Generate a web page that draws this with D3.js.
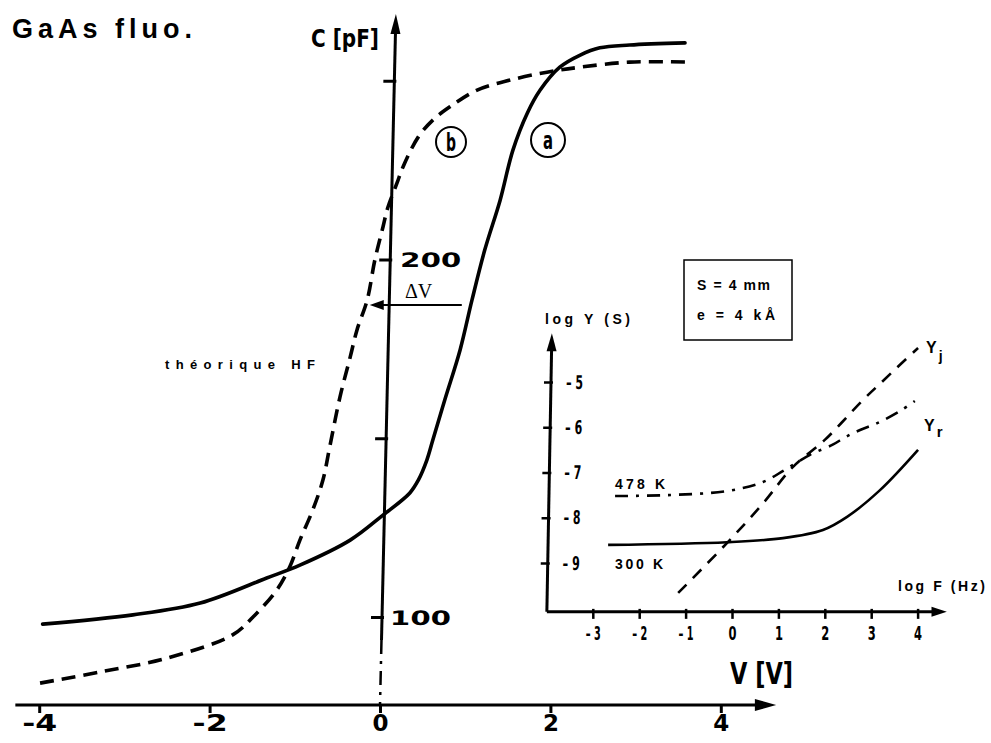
<!DOCTYPE html>
<html><head><meta charset="utf-8">
<script src="https://cdn.jsdelivr.net/npm/d3@7/dist/d3.min.js"></script>
<style>
html,body{margin:0;padding:0;background:#fff;}
svg{display:block;}
</style></head><body>
<svg id="chart" width="991" height="743"></svg>
<script>
// ---------- data ----------
const voltTicks = [-4, -2, 0, 2, 4];
const voltTickLabels = ["-4", "-2", "0", "2", "4"];
const capTicks = [100, 150, 200, 250];
const capTickLabels = ["100", "", "200", ""];

// curve (a) : solid
const curveA_V = [-3.96, -2.90, -2.11, -1.33, -0.94, -0.35, 0.035, 0.35, 0.45, 0.55, 0.62, 0.76, 0.94, 1.08, 1.23, 1.41, 1.56, 1.73, 1.88, 2.11, 2.35, 2.58, 2.93, 3.58];
const curveA_C = [98.0, 100.6, 103.9, 110.9, 114.5, 121.5, 128.5, 134.7, 138.3, 143.9, 149.5, 160.7, 174.7, 188.7, 202.7, 216.6, 230.6, 241.0, 247.4, 253.8, 257.2, 259.2, 260.0, 260.6];
// curve (b) : dashed
const curveB_V = [-3.99, -3.29, -2.50, -1.73, -1.49, -1.21, -1.06, -0.94, -0.79, -0.67, -0.59, -0.47, -0.35, -0.27, -0.15, -0.06, 0.035, 0.09, 0.20, 0.27, 0.45, 0.62, 0.82, 1.14, 1.53, 1.96, 2.35, 2.93, 3.67];
const curveB_C = [81.5, 84.6, 88.5, 95.0, 100.0, 107.6, 114.0, 121.5, 129.9, 138.3, 147.6, 161.5, 172.7, 180.3, 188.7, 199.9, 209.1, 214.4, 221.4, 225.9, 234.3, 239.0, 242.7, 247.4, 250.2, 252.4, 253.8, 255.2, 255.2];

// inset
const logFTicks = [-3, -2, -1, 0, 1, 2, 3, 4];
const logFTickLabels = ["– 3", "– 2", "– 1", "0", "1", "2", "3", "4"];
const logYTicks = [-5, -6, -7, -8, -9];
const logYTickLabels = ["– 5", "– 6", "– 7", "– 8", "– 9"];

const yj_logF = [-1.16, -0.11, 0.67, 1.31, 2.0, 2.82, 3.23, 3.62, 4.01];
const yj_logY = [-9.66, -8.56, -7.68, -6.88, -6.28, -5.40, -5.0, -4.62, -4.25];

const yr478_logF = [-2.52, -1.40, -0.11, 0.67, 1.14, 1.68, 2.18, 2.44, 2.76, 3.13, 3.62, 3.94];
const yr478_logY = [-7.52, -7.50, -7.41, -7.21, -6.94, -6.61, -6.38, -6.22, -6.06, -5.91, -5.64, -5.42];

const y300_logF = [-2.67, -0.11, 1.10, 1.96, 2.48, 3.19, 4.01];
const y300_logY = [-8.60, -8.54, -8.45, -8.27, -7.98, -7.39, -6.50];

// ---------- drawing ----------
const svg = d3.select("#chart");
const narrow = '"Liberation Sans Narrow","DejaVu Sans Condensed","Arial Narrow","Liberation Sans",sans-serif';
const sans = '"Liberation Sans",Arial,sans-serif';
const wide = '"DejaVu Sans",Verdana,sans-serif';
const fit = (sel, w) => sel.attr("textLength", w).attr("lengthAdjust", "spacingAndGlyphs");
const spread = (sel, w) => sel.attr("textLength", w).attr("lengthAdjust", "spacing");

const x = d3.scaleLinear().domain([-4, 4]).range([39.2, 720.8]);
const y = d3.scaleLinear().domain([100, 200]).range([617, 259.5]);
const baseY = 705;
const cMax = y.invert(14);

// main x axis
const gx = svg.append("g").attr("transform", `translate(0,${baseY})`)
  .call(d3.axisBottom(x).tickValues(voltTicks).tickSizeInner(8).tickSizeOuter(0)
    .tickFormat((d, i) => voltTickLabels[i]));
gx.select(".domain").remove();
gx.selectAll(".tick line").attr("stroke", "#000").attr("stroke-width", 3);
gx.selectAll(".tick text").attr("dy", null).attr("y", 26)
  .attr("font-family", wide).attr("font-weight", "bold").attr("font-size", 23).attr("fill", "#000")
  .each(function () { const t = d3.select(this); if (t.text().length > 1) fit(t, 35); });
gx.append("line").attr("x1", x(-4.28)).attr("x2", x(4.45)).attr("y1", 0).attr("y2", 0)
  .attr("stroke", "#000").attr("stroke-width", 3);
gx.append("path").attr("d", `M${x(4.65)},0 L${x(4.4)},-6 L${x(4.4)},6 Z`).attr("fill", "#000");

// main y axis (slightly slanted like the scan)
const kMain = 0.023;
const gy = svg.append("g")
  .attr("transform", `translate(${x(0) + kMain * baseY},0) skewX(${-Math.atan(kMain) * 180 / Math.PI})`)
  .call(d3.axisRight(y).tickValues(capTicks).tickSizeInner(-10).tickSizeOuter(0).tickPadding(10)
    .tickFormat((d, i) => capTickLabels[i]));
gy.select(".domain").remove();
gy.selectAll(".tick line").attr("stroke", "#000").attr("stroke-width", 3).attr("x2", -11).attr("x1", 2);
gy.selectAll(".tick text").attr("font-family", wide).attr("font-weight", "bold").attr("font-size", 20)
  .attr("fill", "#000").attr("dy", "0.36em")
  .each(function () { const t = d3.select(this); if (t.text().length) fit(t, 61); });
gy.select(".tick text").attr("x", 8);
gy.append("line").attr("x1", 0).attr("x2", 0).attr("y1", y(cMax) + 10).attr("y2", y(93.6))
  .attr("stroke", "#000").attr("stroke-width", 3);
gy.append("line").attr("x1", 0).attr("x2", 0).attr("y1", y(93.6)).attr("y2", baseY)
  .attr("stroke", "#000").attr("stroke-width", 2.5).attr("stroke-dasharray", "14,7,3,7");
gy.append("path").attr("d", `M0,${y(cMax)} L-5,${y(cMax) + 20} L5,${y(cMax) + 20} Z`).attr("fill", "#000");

// curves
const lineMain = d3.line().x(d => x(d[0])).y(d => y(d[1])).curve(d3.curveCatmullRom.alpha(0.5));
svg.append("path").datum(curveA_V.map((v, i) => [v, curveA_C[i]]))
  .attr("d", lineMain).attr("fill", "none").attr("stroke", "#000").attr("stroke-width", 3.6)
  .attr("stroke-linecap", "round");
svg.append("path").datum(curveB_V.map((v, i) => [v, curveB_C[i]]))
  .attr("d", lineMain).attr("fill", "none").attr("stroke", "#000").attr("stroke-width", 3.6)
  .attr("stroke-dasharray", "14,8");

// ΔV arrow
const dvC = 187.3, dvFrom = 0.96, dvTo = -0.12;
svg.append("line").attr("x1", x(dvFrom)).attr("x2", x(dvTo) + 10).attr("y1", y(dvC)).attr("y2", y(dvC))
  .attr("stroke", "#000").attr("stroke-width", 2);
svg.append("path").attr("d", `M${x(dvTo)},${y(dvC)} L${x(dvTo) + 14},${y(dvC) - 5} L${x(dvTo) + 14},${y(dvC) + 5} Z`).attr("fill", "#000");
svg.append("text").attr("x", 405).attr("y", 298).attr("font-family", '"Liberation Serif","DejaVu Serif",serif')
  .attr("font-size", 20).text("ΔV");

// circled labels
[[451, 142, 15, "b"], [548, 140, 17, "a"]].forEach(([cx, cy, r, t]) => {
  svg.append("circle").attr("cx", cx).attr("cy", cy).attr("r", r).attr("fill", "none").attr("stroke", "#000").attr("stroke-width", 2);
  fit(svg.append("text").attr("x", cx - 5).attr("y", cy + 9)
    .attr("font-family", narrow).attr("font-weight", "bold").attr("font-size", 24).text(t), 10);
});

// texts
svg.append("text").attr("x", 12).attr("y", 38).attr("font-family", sans)
  .attr("font-weight", "bold").attr("font-size", 27).attr("letter-spacing", 5).text("GaAs fluo.");
fit(svg.append("text").attr("x", 311).attr("y", 47).attr("font-family", narrow)
  .attr("font-weight", "bold").attr("font-size", 25).text("C [pF]"), 68);
spread(svg.append("text").attr("x", 165).attr("y", 369).attr("font-family", sans)
  .attr("font-weight", "bold").attr("font-size", 13).text("théorique HF"), 150);
fit(svg.append("text").attr("x", 730).attr("y", 684).attr("font-family", narrow)
  .attr("font-weight", "bold").attr("font-size", 31).text("V [V]"), 63);

// ---------- inset ----------
const xi = d3.scaleLinear().domain([-3, 4]).range([592.8, 917.6]);
const yi = d3.scaleLinear().domain([-9, -5]).range([563, 382]);
const iBase = yi(-10.08);
const iLeft = xi(-3.99);

const gxi = svg.append("g").attr("transform", `translate(0,${iBase})`)
  .call(d3.axisBottom(xi).tickValues(logFTicks).tickSizeInner(7).tickSizeOuter(0).tickPadding(8)
    .tickFormat((d, i) => logFTickLabels[i]));
gxi.select(".domain").remove();
gxi.selectAll(".tick line").attr("stroke", "#000").attr("stroke-width", 2.5).attr("y1", -3);
gxi.selectAll(".tick text").attr("font-family", narrow).attr("font-weight", "bold").attr("font-size", 19).attr("fill", "#000")
  .each(function () { const t = d3.select(this); fit(t, t.text().length > 1 ? 15 : 8); });
gxi.append("line").attr("x1", iLeft).attr("x2", xi(4.4)).attr("y1", 0).attr("y2", 0).attr("stroke", "#000").attr("stroke-width", 3);
gxi.append("path").attr("d", `M${xi(4.63)},0 L${xi(4.3)},-5 L${xi(4.3)},5 Z`).attr("fill", "#000");

const kIn = 0.018;
const gyi = svg.append("g")
  .attr("transform", `translate(${iLeft + kIn * iBase},0) skewX(${-Math.atan(kIn) * 180 / Math.PI})`)
  .call(d3.axisRight(yi).tickValues(logYTicks).tickSizeInner(-7).tickSizeOuter(0).tickPadding(15)
    .tickFormat((d, i) => logYTickLabels[i]));
gyi.select(".domain").remove();
gyi.selectAll(".tick line").attr("stroke", "#000").attr("stroke-width", 2.5).attr("x1", 2);
gyi.selectAll(".tick text").attr("font-family", narrow).attr("font-weight", "bold").attr("font-size", 19).attr("fill", "#000")
  .each(function () { fit(d3.select(this), 17); });
gyi.append("line").attr("x1", 0).attr("x2", 0).attr("y1", yi(-4.2)).attr("y2", iBase).attr("stroke", "#000").attr("stroke-width", 3);
gyi.append("path").attr("d", `M0,${yi(-3.92)} L-5,${yi(-3.92) + 18} L5,${yi(-3.92) + 18} Z`).attr("fill", "#000");

const lineIn = d3.line().x(d => xi(d[0])).y(d => yi(d[1])).curve(d3.curveCatmullRom.alpha(0.5));
svg.append("path").datum(yj_logF.map((v, i) => [v, yj_logY[i]])).attr("d", lineIn)
  .attr("fill", "none").attr("stroke", "#000").attr("stroke-width", 2.6).attr("stroke-dasharray", "12,9");
svg.append("path").datum(yr478_logF.map((v, i) => [v, yr478_logY[i]])).attr("d", lineIn)
  .attr("fill", "none").attr("stroke", "#000").attr("stroke-width", 2.6).attr("stroke-dasharray", "13,8,3,8");
svg.append("path").datum(y300_logF.map((v, i) => [v, y300_logY[i]])).attr("d", lineIn)
  .attr("fill", "none").attr("stroke", "#000").attr("stroke-width", 2.6);

const tIn = (tx, ty, s, size, w) => {
  const t = svg.append("text").attr("x", tx).attr("y", ty).attr("font-family", sans)
    .attr("font-weight", "bold").attr("font-size", size).text(s);
  if (w) spread(t, w);
  return t;
};
tIn(545, 324, "log Y (S)", 14, 85);
tIn(898, 591, "log F (Hz)", 14, 87);
tIn(615, 489, "478 K", 14, 50);
tIn(615, 569, "300 K", 14, 48);
tIn(697, 290, "S = 4 mm", 14, 73);
tIn(697, 320, "e = 4 kÅ", 14, 78);
// Yj, Yr labels
const yjT = tIn(926, 353, "Y", 16, 0);
yjT.append("tspan").attr("dy", 8).attr("font-size", 14).attr("dx", 2).text("j");
const yrT = tIn(924, 431, "Y", 16, 0);
yrT.append("tspan").attr("dy", 6).attr("font-size", 15).attr("dx", 2).text("r");

// box
svg.append("rect").attr("x", 684).attr("y", 260).attr("width", 108).attr("height", 80)
  .attr("fill", "none").attr("stroke", "#000").attr("stroke-width", 1.5);
</script>
</body></html>
